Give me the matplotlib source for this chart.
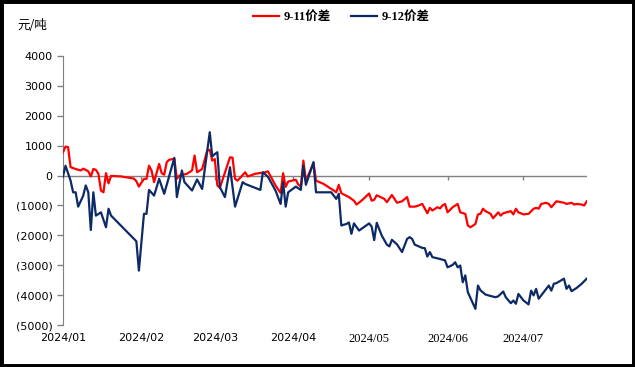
import matplotlib
matplotlib.use("Agg")
import matplotlib.pyplot as plt
from matplotlib.patches import Rectangle
from matplotlib.ticker import FuncFormatter
import pandas as pd

# 9-11 spread (yuan/ton)
d911 = ["01-01", "01-02", "01-03", "01-04", "01-06", "01-08", "01-09", "01-10", "01-11", "01-12",
        "01-13", "01-14", "01-15", "01-16", "01-17", "01-18", "01-19", "01-20", "01-24", "01-29",
        "01-30", "01-31", "02-02", "02-03", "02-04", "02-05", "02-06", "02-08", "02-09", "02-10",
        "02-11", "02-12", "02-14", "02-15", "02-16", "02-19", "02-21", "02-22", "02-23", "02-25",
        "02-27", "02-28", "02-29", "03-01", "03-02", "03-03", "03-07", "03-08", "03-09", "03-10",
        "03-13", "03-14", "03-17", "03-21", "03-22", "03-25", "03-27", "03-28", "03-29", "03-30",
        "04-02", "04-03", "04-04", "04-05", "04-06", "04-09", "04-10", "04-13", "04-17", "04-18",
        "04-19", "04-20", "04-23", "04-25", "04-26", "04-28", "05-01", "05-02", "05-03", "05-04",
        "05-07", "05-08", "05-10", "05-12", "05-14", "05-16", "05-17", "05-19", "05-20", "05-22",
        "05-24", "05-25", "05-26", "05-28", "05-29", "05-30", "05-31", "06-01", "06-03", "06-05",
        "06-06", "06-08", "06-09", "06-10", "06-12", "06-13", "06-14", "06-15", "06-16", "06-18",
        "06-19", "06-21", "06-22", "06-23", "06-26", "06-27", "06-28", "06-29", "07-01", "07-03",
        "07-05", "07-06", "07-07", "07-08", "07-10", "07-11", "07-12", "07-14", "07-17", "07-18",
        "07-20", "07-21", "07-22", "07-24", "07-25", "07-26"]
v911 = [780, 970, 950, 280, 220, 170, 230, 190, 140, -30,
        220, 190, 60, -500, -560, 80, -260, -10, -30, -100,
        -190, -370, -110, -110, 330, 170, -220, 390, 80, 30,
        450, 530, 560, -110, 0, 60, 170, 670, 110, 220,
        840, 860, 500, 550, -330, -410, 610, 600, -110, -170,
        110, -30, 60, 110, 140, -330, -580, 80, -380, -200,
        -140, -300, -370, 500, -170, 410, -170, -280, -500, -560,
        -310, -590, -720, -840, -970, -840, -600, -840, -810, -660,
        -780, -890, -650, -910, -860, -720, -1040, -1040, -1020, -950,
        -1260, -1080, -1170, -1060, -1100, -1000, -950, -1230, -1060, -950,
        -1230, -1280, -1670, -1730, -1620, -1300, -1280, -1110, -1190, -1280,
        -1430, -1230, -1340, -1260, -1190, -1300, -1110, -1230, -1300, -1280,
        -1110, -1080, -1110, -950, -910, -950, -1060, -860, -910, -950,
        -910, -970, -950, -970, -1000, -860]

# 9-12 spread (yuan/ton)
d912 = ["01-01", "01-02", "01-04", "01-05", "01-06", "01-07", "01-09", "01-10", "01-11", "01-12",
        "01-13", "01-14", "01-16", "01-18", "01-19", "01-20", "01-30", "01-31", "02-02", "02-03",
        "02-04", "02-06", "02-08", "02-10", "02-14", "02-15", "02-17", "02-18", "02-21", "02-23",
        "02-25", "02-28", "02-29", "03-01", "03-02", "03-03", "03-05", "03-07", "03-09", "03-12",
        "03-13", "03-19", "03-20", "03-22", "03-25", "03-27", "03-28", "03-29", "03-30", "04-02",
        "04-04", "04-05", "04-06", "04-09", "04-10", "04-16", "04-17", "04-18", "04-19", "04-20",
        "04-22", "04-23", "04-24", "04-25", "04-27", "05-01", "05-02", "05-03", "05-04", "05-06",
        "05-08", "05-09", "05-10", "05-12", "05-14", "05-16", "05-17", "05-18", "05-19", "05-22",
        "05-23", "05-24", "05-25", "05-26", "05-29", "05-31", "06-01", "06-03", "06-04", "06-05",
        "06-06", "06-07", "06-08", "06-09", "06-12", "06-13", "06-14", "06-16", "06-18", "06-20",
        "06-21", "06-23", "06-24", "06-26", "06-27", "06-28", "06-29", "07-01", "07-03", "07-04",
        "07-05", "07-06", "07-07", "07-09", "07-11", "07-12", "07-13", "07-14", "07-17", "07-18",
        "07-19", "07-20", "07-22", "07-24", "07-26"]
v912 = [-30, 330, -170, -560, -560, -1040, -670, -330, -560, -1820,
        -560, -1340, -1230, -1730, -1110, -1340, -2200, -3180, -1280, -1280,
        -480, -670, -110, -610, 590, -720, 170, -220, -500, -130,
        -450, 1450, 640, 720, 780, -390, -720, 280, -1040, -220,
        -280, -480, 110, -40, -500, -950, -220, -1040, -560, -370,
        -480, 330, -310, 450, -560, -560, -670, -780, -610, -1670,
        -1620, -1570, -1950, -1600, -1840, -1600, -1710, -2160, -1580, -2010,
        -2310, -2370, -2150, -2300, -2560, -2120, -2060, -2120, -2310, -2420,
        -2430, -2710, -2560, -2730, -2790, -2840, -3070, -2990, -2900, -3070,
        -3010, -3570, -3340, -3900, -4460, -3680, -3840, -3980, -4030, -4070,
        -4040, -3880, -4070, -4270, -4180, -4290, -3960, -4180, -4310, -3850,
        -4010, -3790, -4120, -3900, -3680, -3850, -3620, -3600, -3450, -3790,
        -3680, -3870, -3760, -3620, -3450]

month_labels = ["2024/01", "2024/02", "2024/03", "2024/04", "2024/05", "2024/06", "2024/07"]
y_ticks = [4000, 3000, 2000, 1000, 0, -1000, -2000, -3000, -4000, -5000]

x911 = pd.to_datetime(["2024-" + d for d in d911])
x912 = pd.to_datetime(["2024-" + d for d in d912])
months = pd.to_datetime(["2024-%02d-01" % m for m in range(1, 8)])

fig = plt.figure(figsize=(6.35, 3.67), dpi=100)
ax = fig.add_axes([0.0992, 0.1144, 0.8248, 0.733])

# zero line with small month ticks hanging below it
ax.axhline(0, color="#808080", lw=1, zorder=1)
ax.vlines(months, -140, 0, color="#808080", lw=1, zorder=1)

ax.plot(x911, v911, color="#FF0000", lw=1.6, label="9-11价差", zorder=3)
ax.plot(x912, v912, color="#0D2A66", lw=1.6, label="9-12价差", zorder=3)

ax.set_ylim(-5000, 4000)
ax.set_xlim(pd.Timestamp("2024-01-01"), pd.Timestamp("2024-07-26"))
ax.set_yticks(y_ticks)
ax.yaxis.set_major_formatter(FuncFormatter(lambda v, p: "(%d)" % abs(v) if v < 0 else "%d" % v))
ax.tick_params(axis="y", colors="#808080", labelcolor="black", labelsize=8, length=4, width=1)

ax.set_xticks(months)
ax.set_xticklabels(month_labels)
ax.tick_params(axis="x", length=0, labelsize=8, pad=6)
for i, t in enumerate(ax.get_xticklabels()):
    if i >= 4:
        t.set_family("Liberation Serif")
        t.set_fontsize(9)

for s in ["top", "right", "bottom"]:
    ax.spines[s].set_visible(False)
ax.spines["left"].set_color("#808080")

fig.text(0.027, 0.93, "元/吨", fontsize=9, family=["Noto Sans CJK SC", "DejaVu Sans"], va="center")

fig.legend(loc="center", bbox_to_anchor=(0.537, 0.953), ncol=2, frameon=False,
           handlelength=2.1, columnspacing=1.6, handletextpad=0.35,
           prop={"family": ["Liberation Serif", "Noto Sans CJK SC"], "weight": "bold", "size": 9})

fig.patches.append(Rectangle((0, 0), 1, 1, transform=fig.transFigure, fill=False,
                             edgecolor="black", linewidth=5))

fig.savefig("out.png", dpi=100)
